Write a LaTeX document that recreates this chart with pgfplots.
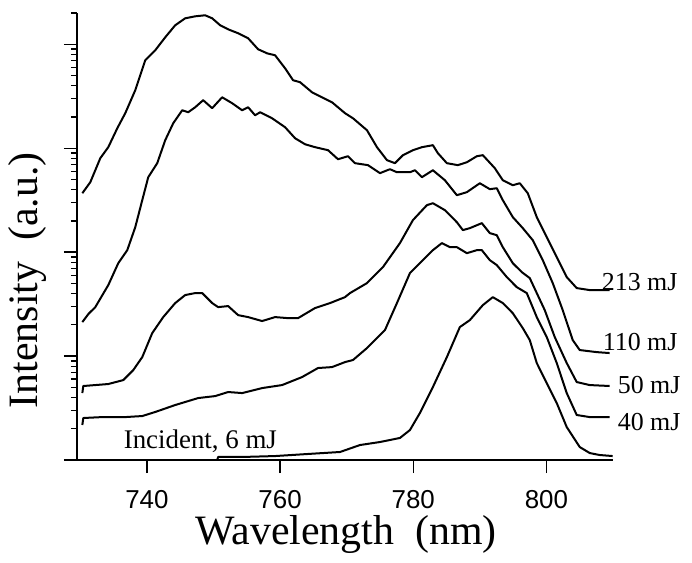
\documentclass[border=0pt]{standalone}
\usepackage{fontspec}
\setmainfont{Liberation Serif}
\newfontfamily\sansf{Liberation Sans}
\usepackage{pgfplots}
\pgfplotsset{compat=1.18}
\begin{document}
\begin{tikzpicture}
\begin{axis}[
 scale only axis, width=536bp, height=447bp,
 xmin=729.5, xmax=810, ymin=0, ymax=4.301,
 axis lines*=left,
 axis line style={line width=1.6bp},
 tick align=outside,
 tick style={black, line width=1.3bp},
 major tick length=13bp, minor tick length=6bp,
 xtick={740,760,780,800},
 ytick={0,1,2,3,4}, yticklabels={},
 minor ytick={0.301,0.477,0.602,0.699,0.778,0.845,0.903,0.954,
  1.301,1.477,1.602,1.699,1.778,1.845,1.903,1.954,
  2.301,2.477,2.602,2.699,2.778,2.845,2.903,2.954,
  3.301,3.477,3.602,3.699,3.778,3.845,3.903,3.954,4.301},
 xticklabel style={font=\sansf\fontsize{26}{30}\selectfont, yshift=-14bp, /pgf/number format/assume math mode=true},
 clip=false,
]
% 213 mJ
\addplot[black, line width=2bp, line join=round] coordinates {(730.3,2.567)(731.5,2.673)(733.0,2.904)(734.2,3.010)(735.55,3.192)(736.75,3.337)(738.25,3.558)(739.75,3.846)(741.25,3.942)(742.75,4.067)(744.25,4.183)(745.75,4.250)(747.25,4.269)(748.75,4.279)(749.8,4.250)(751.0,4.183)(752.2,4.144)(753.7,4.106)(755.2,4.058)(756.7,3.952)(758.05,3.913)(759.25,3.894)(760.75,3.769)(761.95,3.654)(763.0,3.635)(764.8,3.538)(766.3,3.490)(767.8,3.442)(769.75,3.337)(770.95,3.288)(773.05,3.173)(774.55,3.010)(776.05,2.885)(777.25,2.856)(778.45,2.933)(779.95,2.981)(781.3,3.010)(782.95,3.029)(783.7,2.952)(785.05,2.856)(786.7,2.837)(788.05,2.865)(789.55,2.923)(790.45,2.933)(792.25,2.808)(793.45,2.692)(794.95,2.644)(796.0,2.663)(797.2,2.567)(798.55,2.337)(800.05,2.144)(801.55,1.952)(803.05,1.760)(804.55,1.654)(806.5,1.635)(809.5,1.635)};
% 110 mJ
\addplot[black, line width=2bp, line join=round] coordinates {(730.3,1.327)(731.2,1.404)(732.25,1.471)(734.2,1.683)(735.7,1.894)(737.05,2.019)(738.25,2.240)(739.3,2.500)(740.2,2.721)(741.55,2.856)(742.75,3.077)(743.95,3.240)(745.3,3.365)(746.2,3.346)(747.25,3.394)(748.45,3.462)(749.8,3.385)(751.3,3.490)(752.8,3.433)(754.3,3.365)(755.2,3.394)(756.25,3.317)(757.0,3.346)(758.8,3.288)(760.75,3.202)(762.25,3.096)(763.75,3.038)(765.25,3.010)(767.2,2.981)(768.7,2.894)(770.2,2.923)(771.25,2.856)(773.2,2.837)(775.0,2.760)(776.5,2.798)(777.55,2.769)(779.5,2.769)(780.25,2.788)(781.3,2.721)(782.95,2.788)(784.75,2.692)(786.55,2.548)(788.05,2.577)(790.0,2.663)(791.5,2.606)(792.55,2.615)(793.45,2.500)(794.95,2.337)(796.45,2.231)(797.95,2.115)(799.45,1.923)(800.95,1.702)(802.45,1.442)(803.95,1.154)(805.0,1.058)(807.55,1.038)(809.5,1.029)};
% 50 mJ
\addplot[black, line width=2bp, line join=round] coordinates {(730.3,0.644)(730.45,0.712)(732.25,0.721)(734.2,0.731)(736.45,0.769)(737.95,0.865)(739.3,0.990)(740.8,1.221)(742.45,1.375)(744.25,1.510)(745.75,1.587)(747.25,1.606)(748.3,1.606)(749.8,1.510)(750.7,1.471)(752.2,1.481)(753.7,1.394)(755.2,1.375)(757.3,1.337)(759.25,1.375)(761.2,1.365)(762.7,1.365)(765.25,1.462)(767.5,1.510)(769.75,1.567)(770.5,1.606)(773.05,1.702)(775.45,1.856)(778.0,2.087)(779.95,2.308)(782.05,2.452)(782.95,2.471)(784.75,2.404)(786.55,2.288)(787.45,2.212)(788.5,2.231)(790.3,2.279)(791.5,2.183)(792.55,2.163)(793.45,2.048)(794.95,1.894)(796.3,1.808)(797.5,1.750)(798.55,1.606)(799.75,1.442)(801.25,1.183)(803.05,0.933)(804.55,0.750)(806.5,0.721)(809.5,0.712)};
% 40 mJ
\addplot[black, line width=2bp, line join=round] coordinates {(730.3,0.337)(730.45,0.404)(733.3,0.413)(736.75,0.413)(739.3,0.423)(741.25,0.462)(744.25,0.529)(747.7,0.596)(750.25,0.615)(752.2,0.654)(754.3,0.644)(757.3,0.692)(760.3,0.721)(763.3,0.798)(765.7,0.885)(767.8,0.894)(769.75,0.942)(770.95,0.962)(773.05,1.077)(775.75,1.250)(777.55,1.510)(779.5,1.798)(781.45,1.923)(782.95,2.019)(784.3,2.087)(785.5,2.048)(786.55,2.048)(788.05,1.990)(789.55,2.019)(790.3,2.019)(791.5,1.923)(792.55,1.875)(794.05,1.760)(795.55,1.663)(797.05,1.606)(798.55,1.375)(800.05,1.183)(801.55,0.933)(803.05,0.644)(804.55,0.433)(806.5,0.413)(809.5,0.413)};
% Incident, 6 mJ
\addplot[black, line width=2bp, line join=round] coordinates {(750.55,0)(750.7,0.029)(754.3,0.029)(759.25,0.038)(764.2,0.058)(769.0,0.077)(772.0,0.144)(775.0,0.173)(778.0,0.212)(779.5,0.288)(781.0,0.452)(782.95,0.702)(785.05,0.990)(787.0,1.279)(788.5,1.346)(790.45,1.490)(791.95,1.567)(793.45,1.510)(794.95,1.413)(796.45,1.269)(797.5,1.154)(798.55,0.933)(800.05,0.740)(801.55,0.548)(803.05,0.317)(805.0,0.125)(806.5,0.067)(808.0,0.048)(809.95,0.038)};
\begin{scope}[every node/.style={font=\fontsize{26}{30}\selectfont, inner sep=0pt}]
\node[anchor=base west] at (axis cs:808.3,1.635) {213 mJ};
\node[anchor=base west] at (axis cs:808.45,1.058) {110 mJ};
\node[anchor=base west] at (axis cs:810.7,0.644) {50 mJ};
\node[anchor=base west] at (axis cs:810.7,0.288) {40 mJ};
\node[anchor=base west, font=\fontsize{27}{30}\selectfont] at (axis cs:736.5,0.115) {Incident, 6 mJ};
\end{scope}
\node[anchor=base, font=\fontsize{42}{48}\selectfont, inner sep=0pt] at (axis description cs:0.502,-0.190) {Wavelength\ \ (nm)};
\node[anchor=center, rotate=90, font=\fontsize{42}{48}\selectfont, inner sep=0pt] at (axis description cs:-0.093,0.402) {Intensity\ \ (a.u.)};
\end{axis}
\pgfresetboundingbox
\path[use as bounding box] (-77bp,-103bp) rectangle (615bp,460bp);
\end{tikzpicture}
\end{document}
